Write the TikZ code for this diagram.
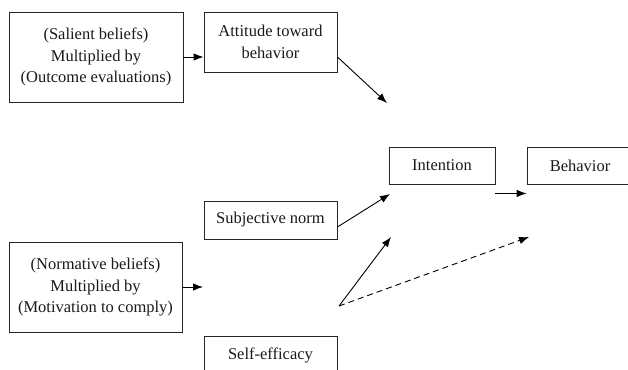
\documentclass[tikz,border=0pt]{standalone}
\usepackage{fontspec}
\setmainfont{Liberation Serif}
\usetikzlibrary{arrows.meta,calc}
\begin{document}
\begin{tikzpicture}[x=1pt,y=1pt,
  box/.style={draw=black!85,line width=0.9pt,inner sep=0pt,align=center,
    font=\fontsize{16.5}{21.5}\selectfont,text=black!90},
  arr/.style={line width=0.9pt,-{Latex[length=10pt,width=7.5pt]}},
  darr/.style={arr,dash pattern=on 6pt off 4pt}]
\useasboundingbox (0,0) rectangle (628,369);
\clip (0,0) rectangle (628,369);
\node[box,minimum width=174pt,minimum height=90pt] (sal) at (96,312)
  {(Salient beliefs)\\Multiplied by\\(Outcome evaluations)};
\node[box,minimum width=133pt,minimum height=60pt] (att) at (270.5,327)
  {Attitude toward\\behavior};
\node[box,minimum width=106pt,minimum height=37pt] (int) at (442,203.5) {Intention};
\node[box,minimum width=106pt,minimum height=37pt] (beh) at (580,203.5) {Behavior};
\node[box,minimum width=133pt,minimum height=38pt] (subj) at (270.5,149) {Subjective norm};
\node[box,minimum width=173pt,minimum height=90pt] (norm) at (95.5,82)
  {(Normative beliefs)\\Multiplied by\\(Motivation to comply)};
\node[box,minimum width=133pt,minimum height=38pt] (self) at (270.5,14) {Self-efficacy};
\coordinate (attend) at (387,266);
\coordinate (subjend) at (390,175);
\coordinate (normend) at (203,82);
\coordinate (e0) at (339,63);
\coordinate (e1) at (391,132);
\coordinate (e2) at (529,132);
\draw[arr] (sal.east) -- (sal.east -| att.west);
\draw[arr] ($(att.east)+(0,-15)$) -- (attend);
\draw[arr] ($(int.south east)+(0,-9)$) -- ($(beh.south west)+(0,-9)$);
\draw[arr] ($(subj.east)+(0,-7)$) -- (subjend);
\draw[arr] (norm.east) -- (normend);
\draw[arr] (e0) -- (e1);
\draw[darr] (e0) -- (e2);
\end{tikzpicture}
\end{document}
